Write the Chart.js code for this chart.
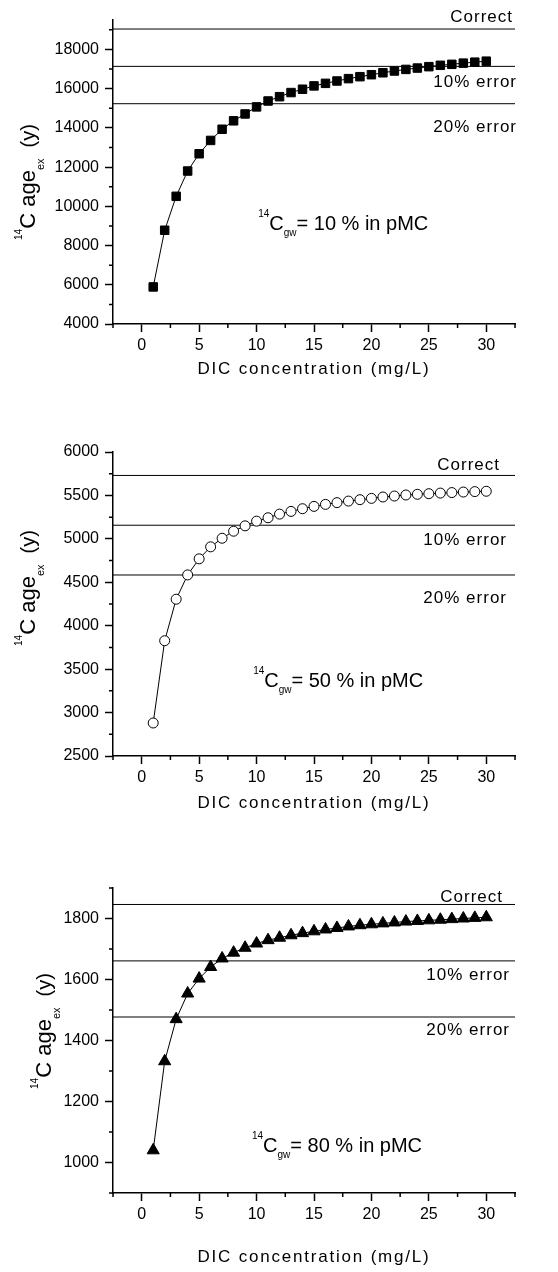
<!DOCTYPE html>
<html lang="en">
<head>
<meta charset="UTF-8">
<script src="https://cdn.jsdelivr.net/npm/chart.js"></script>
<title>14C age vs DIC</title>
<style>
  body { margin: 0; background: #fff; }
  #wrap { position: relative; width: 558px; height: 1272px; }
  canvas { position: absolute; left: 0; }
</style>
</head>
<body>
<div id="wrap">
  <canvas id="c1" width="558" height="390" style="top:0px"></canvas>
  <canvas id="c2" width="558" height="420" style="top:400px"></canvas>
  <canvas id="c3" width="558" height="432" style="top:840px"></canvas>
</div>
<script>
// DIC concentration (mg/L)
const dic = [1, 2, 3, 4, 5, 6, 7, 8, 9, 10, 11, 12, 13, 14, 15,
             16, 17, 18, 19, 20, 21, 22, 23, 24, 25, 26, 27, 28, 29, 30];

// apparent 14C age (y) for 14C_gw = 10, 50, 80 pMC
const age10 = [5890, 8780, 10510, 11800, 12680, 13360, 13930, 14360, 14710, 15070,
               15370, 15590, 15800, 15970, 16140, 16270, 16390, 16510, 16610, 16710,
               16810, 16900, 16980, 17050, 17120, 17190, 17240, 17300, 17350, 17400];
const age50 = [2880, 3827, 4305, 4585, 4770, 4908, 5007, 5088, 5150, 5204,
               5243, 5285, 5316, 5347, 5374, 5397, 5417, 5435, 5451, 5466,
               5482, 5493, 5505, 5513, 5520, 5527, 5533, 5539, 5544, 5548];
const age80 = [1040, 1332, 1470, 1554, 1603, 1641, 1669, 1688, 1704, 1718,
               1729, 1737, 1745, 1752, 1758, 1764, 1769, 1774, 1778, 1781,
               1784, 1787, 1790, 1792, 1794, 1796, 1798, 1800, 1802, 1804];

// correct age, 10% error, 20% error
const ref10 = [19040, 17136, 15232];
const ref50 = [5730, 5157, 4584];
const ref80 = [1846, 1661, 1477];
const refLabels = ['Correct', '10% error', '20% error'];

// ticks
const xTicks = [0, 5, 10, 15, 20, 25, 30];
const xMinor = [-2.5, 2.5, 7.5, 12.5, 17.5, 22.5, 27.5, 32.5];
const yTicks10 = [4000, 6000, 8000, 10000, 12000, 14000, 16000, 18000];
const yMinor10 = [5000, 7000, 9000, 11000, 13000, 15000, 17000, 19000];
const yTicks50 = [2500, 3000, 3500, 4000, 4500, 5000, 5500, 6000];
const yMinor50 = [2750, 3250, 3750, 4250, 4750, 5250, 5750];
const yTicks80 = [1000, 1200, 1400, 1600, 1800];
const yMinor80 = [900, 1100, 1300, 1500, 1700, 1900];

const FONT = '"Liberation Sans", Arial, sans-serif';
Chart.defaults.font.family = FONT;
Chart.defaults.color = '#000';

function textWidth(ctx, parts) {
    let w = 0;
    parts.forEach(p => { ctx.font = p[1] + 'px ' + FONT; w += ctx.measureText(p[0]).width; });
    return w;
}
function drawParts(ctx, parts, x, y) {
    parts.forEach(p => {
        ctx.font = p[1] + 'px ' + FONT;
        ctx.fillText(p[0], x, y + p[2]);
        x += ctx.measureText(p[0]).width;
    });
}

// minor ticks, axis titles with sub/superscripts, reference labels and note
const overlay = {
    id: 'overlay',
    afterDraw(chart, args, o) {
        const ctx = chart.ctx;
        const x = chart.scales.x, y = chart.scales.y;
        ctx.save();
        ctx.strokeStyle = '#000';
        ctx.fillStyle = '#000';
        ctx.lineWidth = 1.5;
        ctx.beginPath();
        xMinor.forEach(v => {
            const px = x.getPixelForValue(v);
            ctx.moveTo(px, x.top);
            ctx.lineTo(px, x.top + 4);
        });
        o.yMinor.forEach(v => {
            const py = y.getPixelForValue(v);
            ctx.moveTo(y.right, py);
            ctx.lineTo(y.right - 4, py);
        });
        ctx.stroke();

        // reference line labels
        ctx.font = '17px ' + FONT;
        ctx.letterSpacing = '1px';
        ctx.textAlign = 'right';
        ctx.textBaseline = 'middle';
        o.refs.forEach((v, i) => {
            ctx.fillText(refLabels[i], o.labelRight[i], y.getPixelForValue(v) + o.labelDy[i]);
        });

        // x axis title
        ctx.font = '17px ' + FONT;
        ctx.letterSpacing = '1.8px';
        ctx.textAlign = 'center';
        ctx.fillText('DIC concentration (mg/L)', (chart.chartArea.left + chart.chartArea.right) / 2, o.xTitleY);
        ctx.letterSpacing = '0px';

        // note inside the plot
        ctx.textAlign = 'left';
        ctx.textBaseline = 'alphabetic';
        const note = [['14', 10, -13], ['C', 20, 0], ['gw', 10, 6], ['= ' + o.pmc + ' % in pMC', 20, 0]];
        drawParts(ctx, note, x.getPixelForValue(o.note[0]), y.getPixelForValue(o.note[1]));

        // y axis title
        const yt = [['14', 10, -13], ['C age', 22, 0], ['ex', 11, 9], ['  (y)', 20, 0]];
        ctx.translate(o.yTitle[0], o.yTitle[1]);
        ctx.rotate(-Math.PI / 2);
        drawParts(ctx, yt, -textWidth(ctx, yt) / 2, 0);
        ctx.restore();
    }
};

function makePanel(id, p) {
    const refSets = p.refs.map(v => ({
        data: [{ x: -2.5, y: v }, { x: 32.5, y: v }],
        borderColor: '#000',
        borderWidth: 1,
        pointRadius: 0
    }));
    new Chart(document.getElementById(id), {
        type: 'line',
        data: {
            datasets: [{
                data: dic.map((d, i) => ({ x: d, y: p.values[i] })),
                borderColor: '#000',
                borderWidth: 1,
                pointStyle: p.pointStyle,
                pointRadius: p.radius,
                pointBackgroundColor: p.fill,
                pointBorderColor: '#000',
                pointBorderWidth: 1
            }].concat(refSets)
        },
        options: {
            responsive: false,
            animation: false,
            devicePixelRatio: 1,
            layout: { padding: { top: p.padTop, right: 43, left: 0, bottom: 0 } },
            plugins: {
                legend: { display: false },
                tooltip: { enabled: false },
                overlay: p
            },
            scales: {
                x: {
                    type: 'linear',
                    min: -2.5,
                    max: 32.5,
                    afterBuildTicks: s => { s.ticks = xTicks.map(v => ({ value: v })); },
                    afterFit: s => { s.height = p.xHeight; },
                    ticks: { font: { size: 16 }, padding: 4, maxRotation: 0, autoSkip: false,
                             callback: v => String(v) },
                    grid: { drawOnChartArea: false, drawTicks: true, tickLength: 8,
                            tickColor: '#000', tickWidth: 1.5 },
                    border: { color: '#000', width: 1.5 }
                },
                y: {
                    type: 'linear',
                    min: p.yMin,
                    max: p.yMax,
                    afterBuildTicks: s => { s.ticks = p.yTicks.map(v => ({ value: v })); },
                    afterFit: s => { s.width = 113; },
                    ticks: { font: { size: 16 }, padding: 6, autoSkip: false,
                             callback: v => String(v) },
                    grid: { drawOnChartArea: false, drawTicks: true, tickLength: 8,
                            tickColor: '#000', tickWidth: 1.5 },
                    border: { color: '#000', width: 1.5 }
                }
            }
        },
        plugins: [overlay]
    });
}

makePanel('c1', {
    values: age10, pointStyle: 'rect', radius: 6, fill: '#000',
    refs: ref10, yMin: 4000, yMax: 19500, yTicks: yTicks10, yMinor: yMinor10,
    padTop: 20, xHeight: 66, xTitleY: 369, yTitle: [35, 182],
    labelRight: [513, 517, 517], labelDy: [-12, 16, 24],
    note: [10.14, 8780], pmc: 10
});
makePanel('c2', {
    values: age50, pointStyle: 'circle', radius: 5, fill: '#fff',
    refs: ref50, yMin: 2500, yMax: 6000, yTicks: yTicks50, yMinor: yMinor50,
    padTop: 52, xHeight: 64, xTitleY: 403, yTitle: [35, 188],
    labelRight: [500, 507, 507], labelDy: [-10, 15.5, 23],
    note: [9.7, 3290], pmc: 50
});
makePanel('c3', {
    values: age80, pointStyle: 'triangle', radius: 7, fill: '#000',
    refs: ref80, yMin: 900, yMax: 1900, yTicks: yTicks80, yMinor: yMinor80,
    padTop: 48, xHeight: 79, xTitleY: 417, yTitle: [51, 191],
    labelRight: [503, 510, 510], labelDy: [-7.5, 14.5, 13.5],
    note: [9.6, 1033], pmc: 80
});
</script>
</body>
</html>
